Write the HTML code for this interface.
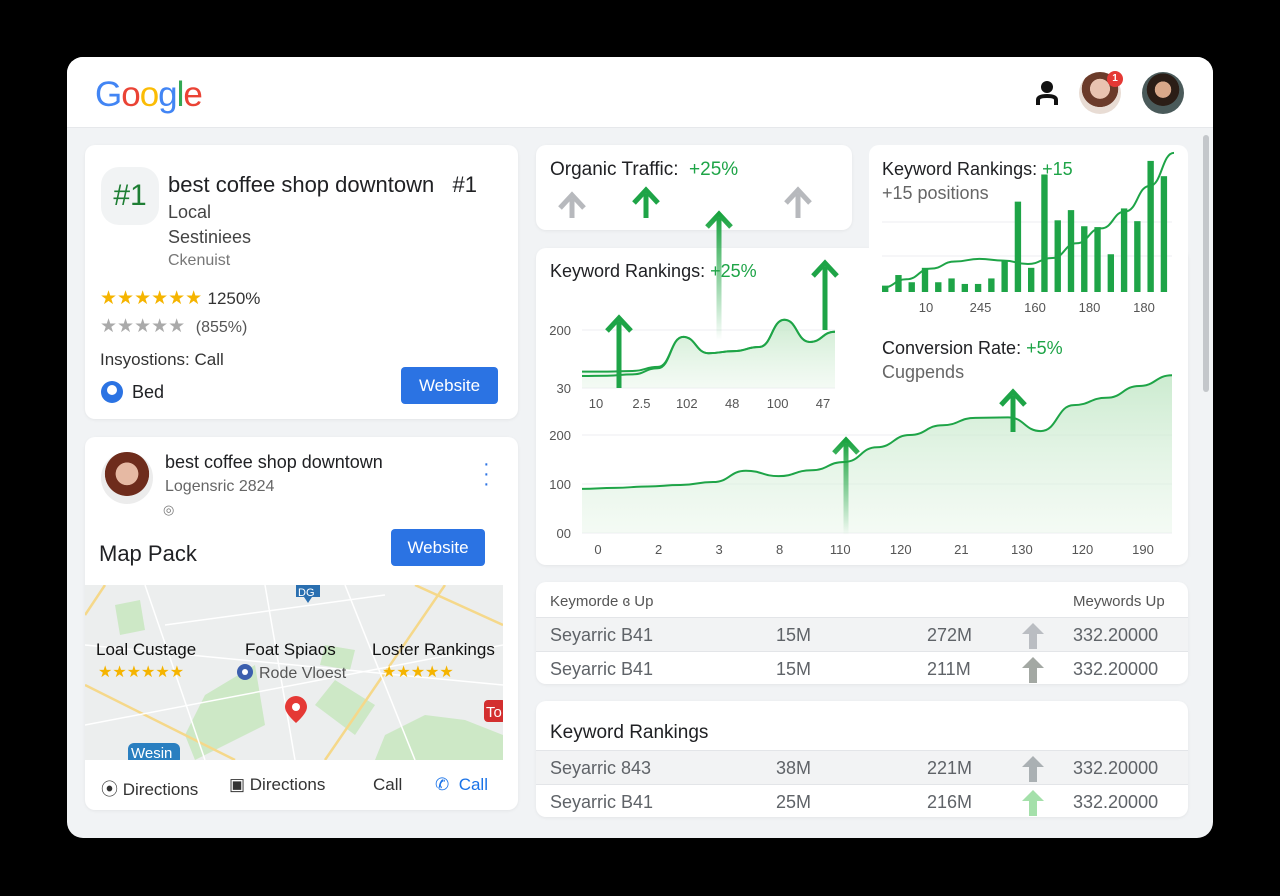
<!DOCTYPE html>
<html><head><meta charset="utf-8"><style>
*{box-sizing:border-box;margin:0;padding:0}
body{width:1280px;height:896px;background:#000;font-family:"Liberation Sans",sans-serif;position:relative;overflow:hidden;color:#202124}
.abs{position:absolute}
#win{position:absolute;left:67px;top:57px;width:1146px;height:781px;background:#f1f3f5;border-radius:16px;overflow:hidden}
.card{position:absolute;background:#fff;border-radius:10px;box-shadow:0 1px 3px rgba(0,0,0,.06)}
.t{position:absolute;white-space:nowrap}
.btn{position:absolute;background:#2b73e3;color:#fff;border-radius:4px;font-size:17px;text-align:center}
.g{color:#1ea447}
.star{color:#f5b400}
.row{position:absolute;left:0;width:652px;height:34px;border-top:1px solid #e3e5e8;font-size:18px;color:#5f6368}
.row span{position:absolute;top:7px}
.row svg{position:absolute;left:486px;top:5px}
</style></head><body>
<div id="win">
 <div class="abs" style="left:0;top:0;width:1146px;height:71px;background:#fff;border-bottom:1px solid #e6e8eb">
  <div class="t" style="left:28px;top:18px;font-size:35px;letter-spacing:-1px"><span style="color:#4285f4">G</span><span style="color:#ea4335">o</span><span style="color:#fbbc05">o</span><span style="color:#4285f4">g</span><span style="color:#34a853">l</span><span style="color:#ea4335">e</span></div>
  <svg class="abs" style="left:966px;top:22px" width="28" height="28"><circle cx="14" cy="8" r="6" fill="#111"/><path d="M3 26 V21 Q3 15 14 15 Q25 15 25 21 V26 H21 V21 Q21 19 14 19 Q7 19 7 21 V26Z" fill="#111"/></svg>
  <div class="abs" style="left:1012px;top:15px;width:42px;height:42px;border-radius:50%;background:radial-gradient(circle at 50% 40%,#e9c3b0 0 30%,#6b3b2a 31% 55%,#e8dcd4 56%)"></div>
  <div class="abs" style="left:1040px;top:14px;width:16px;height:16px;border-radius:50%;background:#e53935;color:#fff;font-size:10px;text-align:center;line-height:16px;font-weight:bold">1</div>
  <div class="abs" style="left:1075px;top:15px;width:42px;height:42px;border-radius:50%;background:radial-gradient(circle at 50% 42%,#d9a88a 0 25%,#2b1d16 26% 50%,#4a5a5a 51%)"></div>
 </div>
 <div class="abs" style="left:1136px;top:78px;width:6px;height:257px;border-radius:3px;background:#c4c7cb"></div>
</div>

<div class="card" style="left:85px;top:145px;width:433px;height:274px">
 <div class="abs" style="left:16px;top:22px;width:58px;height:58px;border-radius:18px;background:#f1f3f4;color:#1e7e34;font-size:30px;text-align:center;line-height:58px">#1</div>
 <div class="t" style="left:83px;top:27px;font-size:22px">best coffee shop downtown &nbsp;&nbsp;#1</div>
 <div class="t" style="left:83px;top:57px;font-size:18px;color:#444">Local</div>
 <div class="t" style="left:83px;top:82px;font-size:18px;color:#444">Sestiniees</div>
 <div class="t" style="left:83px;top:107px;font-size:16px;color:#777">Ckenuist</div>
 <div class="t" style="left:15px;top:142px;font-size:19px"><span class="star">★★★★★★</span> <span style="font-size:17px;color:#333">1250%</span></div>
 <div class="t" style="left:15px;top:170px;font-size:19px;color:#aaa">★★★★★ &nbsp;<span style="font-size:16px;color:#555">(855%)</span></div>
 <div class="t" style="left:15px;top:205px;font-size:17px;color:#333">Insyostions: Call</div>
 <div class="abs" style="left:16px;top:236px;width:22px;height:22px;border-radius:50%;background:#2b73e3"><div class="abs" style="left:6px;top:4px;width:10px;height:10px;border-radius:50%;background:#fff"></div></div>
 <div class="t" style="left:47px;top:237px;font-size:18px">Bed</div>
 <div class="btn" style="left:316px;top:222px;width:97px;height:37px;line-height:37px">Website</div>
</div>

<div class="card" style="left:85px;top:437px;width:433px;height:373px;overflow:hidden">
 <div class="abs" style="left:16px;top:15px;width:52px;height:52px;border-radius:50%;background:radial-gradient(circle at 50% 42%,#e6b9a3 0 28%,#6e2c1c 29% 55%,#ececec 56%)"></div>
 <div class="t" style="left:80px;top:15px;font-size:18px">best coffee shop downtown</div>
 <div class="t" style="left:80px;top:41px;font-size:16px;color:#666">Logensric 2824</div>
 <div class="t" style="left:78px;top:65px;font-size:13px;color:#777">◎</div>
 <div class="t" style="left:398px;top:22px;font-size:20px;color:#2b73e3;line-height:10px">·<br>·<br>·</div>
 <div class="t" style="left:14px;top:104px;font-size:22px">Map Pack</div>
 <div class="btn" style="left:306px;top:92px;width:94px;height:37px;line-height:37px">Website</div>
 <svg class="abs" style="left:0;top:148px" width="418" height="175">
  <rect width="418" height="175" fill="#eceeee"/>
  <path d="M30 20 L55 15 L60 45 L35 50Z M120 110 L170 80 L180 140 L110 175 L100 150Z M250 95 L290 120 L270 150 L230 120Z M300 150 L340 130 L380 135 L418 150 L418 175 L290 175Z M240 60 L270 65 L265 85 L235 80Z" fill="#cde8c6"/>
  <g stroke="#f5d88a" stroke-width="2.5" fill="none"><path d="M0 100 L150 175"/><path d="M240 175 L360 0"/><path d="M330 0 L418 40"/><path d="M0 30 L20 0"/></g>
  <g stroke="#fff" stroke-width="1.5" fill="none"><path d="M0 60 L418 100"/><path d="M60 0 L120 175"/><path d="M180 0 L210 175"/><path d="M0 140 L418 60"/><path d="M260 0 L330 175"/><path d="M80 40 L300 10"/></g>
  <path d="M211 0 h24 v12 h-8 l-4 6 l-4 -6 h-8z" fill="#2a6fb0"/><text x="213" y="11" font-size="11" fill="#fff" font-family="Liberation Sans">DG</text>
  <text x="11" y="70" font-size="17" fill="#111" font-family="Liberation Sans">Loal Custage</text>
  <text x="13" y="92" font-size="16" fill="#f5b400" font-family="Liberation Sans">★★★★★★</text>
  <text x="160" y="70" font-size="17" fill="#111" font-family="Liberation Sans">Foat Spiaos</text>
  <circle cx="160" cy="87" r="8" fill="#3c5fae"/><circle cx="160" cy="87" r="3" fill="#fff"/>
  <text x="174" y="93" font-size="16" fill="#555" font-family="Liberation Sans">Rode Vloest</text>
  <text x="287" y="70" font-size="17" fill="#111" font-family="Liberation Sans">Loster Rankings</text>
  <text x="297" y="92" font-size="16" fill="#f5b400" font-family="Liberation Sans">★★★★★</text>
  <path d="M200 122 a11 11 0 1 1 22 0 q0 6 -11 16 q-11 -10 -11 -16z" fill="#e53935"/><circle cx="211" cy="122" r="4" fill="#fff"/>
  <rect x="399" y="115" width="22" height="22" rx="4" fill="#d32f2f"/><text x="401" y="132" font-size="15" fill="#fff" font-family="Liberation Sans">To</text>
  <rect x="43" y="158" width="52" height="22" rx="6" fill="#2a7fc0"/><text x="46" y="173" font-size="15" fill="#fff" font-family="Liberation Sans">Wesin</text>
 </svg>
 <div class="t" style="left:16px;top:338px;font-size:17px;color:#333">⦿ Directions</div>
 <div class="t" style="left:144px;top:338px;font-size:17px;color:#333">▣ Directions</div>
 <div class="t" style="left:288px;top:338px;font-size:17px;color:#333">Call</div>
 <div class="t" style="left:350px;top:338px;font-size:17px;color:#1a73e8">✆ &nbsp;Call</div>
</div>

<div class="card" style="left:536px;top:145px;width:316px;height:85px">
 <div class="t" style="left:14px;top:14px;font-size:19px">Organic Traffic: &nbsp;<span class="g">+25%</span></div>
</div>
<div class="card" style="left:536px;top:248px;width:652px;height:317px">
 <div class="t" style="left:14px;top:13px;font-size:18px">Keyword Rankings: <span class="g">+25%</span></div>
</div>
<div class="card" style="left:869px;top:145px;width:319px;height:290px;box-shadow:none">
 <div class="t" style="left:13px;top:14px;font-size:18px">Keyword Rankings: <span class="g">+15</span></div>
 <div class="t" style="left:13px;top:38px;font-size:18px;color:#666">+15 positions</div>
 <div class="t" style="left:13px;top:193px;font-size:18px">Conversion Rate: <span class="g">+5%</span></div>
 <div class="t" style="left:13px;top:217px;font-size:18px;color:#666">Cugpends</div>
</div>

<svg class="abs" style="left:0;top:0" width="1280" height="896" id="charts">
 <defs>
  <linearGradient id="ga" x1="0" y1="0" x2="0" y2="1"><stop offset="0" stop-color="#bfe6c4" stop-opacity=".8"/><stop offset="1" stop-color="#e9f6ea" stop-opacity=".5"/></linearGradient>
  <linearGradient id="fade" x1="0" y1="0" x2="0" y2="1"><stop offset="0" stop-color="#19a33f"/><stop offset="1" stop-color="#19a33f" stop-opacity="0"/></linearGradient>
 </defs>
 <g id="g-rank"></g><g id="g-bar"></g><g id="g-conv"></g><g id="g-arrows"></g>
</svg>

<div class="card" style="left:536px;top:582px;width:652px;height:102px;overflow:hidden">
 <div class="t" style="left:14px;top:11px;font-size:15px;color:#555">Keymorde ɞ Up</div>
 <div class="t" style="left:537px;top:11px;font-size:15px;color:#555">Meywords Up</div>
 <div class="row" style="top:35px;background:#f2f3f4"><span style="left:14px">Seyarric B41</span><span style="left:240px">15M</span><span style="left:391px">272M</span><svg width="22" height="26"><path d="M11 0 L22 11 H15 V26 H7 V11 H0Z" fill="#babdc2"/></svg><span style="left:537px">332.20000</span></div>
 <div class="row" style="top:69px"><span style="left:14px">Seyarric B41</span><span style="left:240px">15M</span><span style="left:391px">211M</span><svg width="22" height="26"><path d="M11 0 L22 11 H15 V26 H7 V11 H0Z" fill="#a3a8a3"/></svg><span style="left:537px">332.20000</span></div>
</div>
<div class="card" style="left:536px;top:701px;width:652px;height:116px;overflow:hidden">
 <div class="t" style="left:14px;top:21px;font-size:19px">Keyword Rankings</div>
 <div class="row" style="top:49px;background:#f2f3f4"><span style="left:14px">Seyarric 843</span><span style="left:240px">38M</span><span style="left:391px">221M</span><svg width="22" height="26"><path d="M11 0 L22 11 H15 V26 H7 V11 H0Z" fill="#aab0b3"/></svg><span style="left:537px">332.20000</span></div>
 <div class="row" style="top:83px"><span style="left:14px">Seyarric B41</span><span style="left:240px">25M</span><span style="left:391px">216M</span><svg width="22" height="26"><path d="M11 0 L22 11 H15 V26 H7 V11 H0Z" fill="#a4e0aa"/></svg><span style="left:537px">332.20000</span></div>
</div>

<script>
// Keyword rankings (small chart)
const rankLabels=["10","2.5","102","48","100","47"];
const rankTicks=[200,30];
const rankSeriesA=[78,78,80,92,180,132,138,150,230,165,195];
const rankSeriesB=[65,66,70,88,180,132,138,150,230,165,195];
// Bar chart
const barValues=[15,40,23,57,23,32,19,19,32,72,213,57,277,169,193,155,153,89,197,167,309,273];
const barTrend=[10,30,55,72,78,74,66,80,115,150,190,250,328];
const barLabels=["10","245","160","180","180"];
// Conversion rate
const convLabels=["0","2","3","8","110","120","21","130","120","190"];
const convTicks=[200,100,0];
const convTickText=["200","100","00"];
const convValues=[90,92,95,98,104,127,116,128,145,175,200,220,235,236,208,261,276,300,322];

const NS="http://www.w3.org/2000/svg";
function mk(tag,attrs,parent){const e=document.createElementNS(NS,tag);for(const k in attrs)e.setAttribute(k,attrs[k]);parent.appendChild(e);return e;}
function smooth(pts){let d="M"+pts[0][0]+" "+pts[0][1];for(let i=1;i<pts.length;i++){const p=pts[i-1],q=pts[i],mx=(p[0]+q[0])/2;d+=" C"+mx+" "+p[1]+" "+mx+" "+q[1]+" "+q[0]+" "+q[1];}return d;}
function txt(parent,x,y,s,size,fill,anchor){const t=mk("text",{x:x,y:y,"font-size":size,fill:fill,"font-family":"Liberation Sans","text-anchor":anchor||"middle"},parent);t.textContent=s;return t;}

const gR=document.getElementById("g-rank");
const rx=i=>582+i*(835-582)/(rankSeriesA.length-1);
const ry=v=>388-(v-30)*(388-330)/(200-30);
rankTicks.forEach(v=>{const l=mk("line",{x1:582,x2:835,y1:ry(v),y2:ry(v),stroke:"#eceef0"},gR);

const t=txt(gR,571,ry(v)+5,String(v),13,"#555","end");
});
const ptsA=rankSeriesA.map((v,i)=>[rx(i),ry(v)]);
const ptsB=rankSeriesB.map((v,i)=>[rx(i),ry(v)]);
const ra=mk("path",{d:smooth(ptsA)+" L835 388 L582 388Z",fill:"url(#ga)"},gR);

const rl1=mk("path",{d:smooth(ptsA),fill:"none",stroke:"#1ea447","stroke-width":2},gR);

const rl2=mk("path",{d:smooth(ptsB),fill:"none",stroke:"#1ea447","stroke-width":2},gR);

rankLabels.forEach((s,i)=>{const t=txt(gR,596+i*(823-596)/(rankLabels.length-1),408,s,13,"#555");
});

const gB=document.getElementById("g-bar");
const bx0=880,bx1=1172,base=292,bmax=330,bh=140;
[222,256].forEach(y=>{const l=mk("line",{x1:882,x2:1172,y1:y,y2:y,stroke:"#eceef0"},gB);});
const bw=(bx1-bx0)/barValues.length;
barValues.forEach((v,i)=>{const h=v/bmax*bh;const r=mk("rect",{x:bx0+i*bw+2,y:base-h,width:bw*0.48,height:h,fill:"#1ea447"},gB);
});
const tpts=barTrend.map((v,i)=>[bx0+2+i*(bx1-bx0)/(barTrend.length-1),base-v/bmax*bh]);
const bl=mk("path",{d:smooth(tpts),fill:"none",stroke:"#1ea447","stroke-width":2},gB);

barLabels.forEach((s,i)=>{const t=txt(gB,926+i*(1144-926)/(barLabels.length-1),312,s,13,"#555");
});

const gC=document.getElementById("g-conv");
const cx=i=>582+i*(1172-582)/(convValues.length-1);
const cy=v=>533-v*0.49;
convTicks.forEach((v,i)=>{const l=mk("line",{x1:582,x2:1172,y1:cy(v),y2:cy(v),stroke:"#eceef0"},gC);

const t=txt(gC,571,cy(v)+5,convTickText[i],13,"#555","end");
});
const cpts=convValues.map((v,i)=>[cx(i),cy(v)]);
const ca=mk("path",{d:smooth(cpts)+" L1172 533 L582 533Z",fill:"url(#ga)"},gC);

const cl=mk("path",{d:smooth(cpts),fill:"none",stroke:"#1ea447","stroke-width":2},gC);

convLabels.forEach((s,i)=>{const t=txt(gC,598+i*(1143-598)/(convLabels.length-1),554,s,13,"#555");
});

const gA=document.getElementById("g-arrows");
function arrow(x,yTop,yBot,color,fade,w){const p=mk("path",{d:"M"+x+" "+yBot+" V"+(yTop+4)+" M"+(x-12)+" "+(yTop+13)+" L"+x+" "+yTop+" L"+(x+12)+" "+(yTop+13),fill:"none",stroke:fade?"url(#fade)":color,"stroke-width":w||5,"stroke-linecap":"butt"},gA);
}
arrow(572,195,218,"#b7b9bd",false,5);
arrow(646,190,218,"#1ea447",false,5);
arrow(798,190,218,"#b7b9bd",false,5);
arrow(719,214,340,"#1ea447",true,5);
arrow(825,263,330,"#1ea447",false,5);
arrow(619,318,388,"#1ea447",false,5);
arrow(846,440,535,"#1ea447",true,5);
arrow(1013,392,432,"#1ea447",false,5);
</script>
</body></html>
